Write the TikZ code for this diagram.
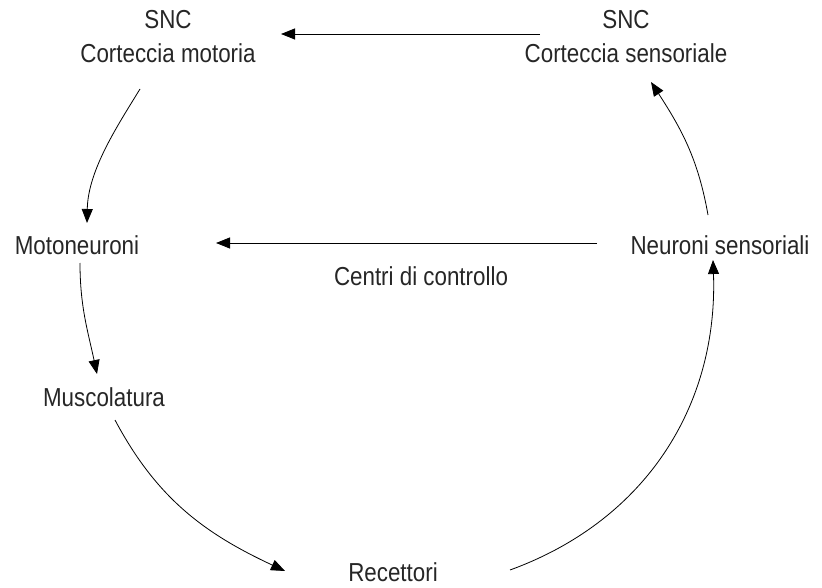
\documentclass[tikz,border=0pt]{standalone}
\usepackage{fontspec}
\setmainfont[FakeStretch=0.86]{Liberation Sans}
\usetikzlibrary{arrows.meta}
\begin{document}
\begin{tikzpicture}[x=1pt,y=-1pt,
  lbl/.style={font=\fontsize{26}{34}\selectfont, text=black!85, inner sep=0pt, align=center},
  conn/.style={line width=0.8pt, -{Triangle[length=14pt,width=11pt]}}]
\useasboundingbox (0,0) rectangle (822,588);
\node[lbl] (cm) at (168,37) {SNC\\Corteccia motoria};
\node[lbl] (cs) at (626,37) {SNC\\Corteccia sensoriale};
\node[lbl] (mn) at (77,245) {Motoneuroni};
\node[lbl] (ns) at (720,245) {Neuroni sensoriali};
\node[lbl] (cc) at (421,276) {Centri di controllo};
\node[lbl] (mu) at (104,397) {Muscolatura};
\node[lbl] (re) at (393,572) {Recettori};
\coordinate (a1) at (540,34); \coordinate (b1) at (281,34);
\coordinate (a2) at (597,243); \coordinate (b2) at (216,243);
\coordinate (a3) at (140,89); \coordinate (b3) at (87,223);
\coordinate (a4) at (80,263); \coordinate (b4) at (97,374);
\coordinate (a5) at (115,420); \coordinate (b5) at (285,571);
\coordinate (a6) at (510,570); \coordinate (b6) at (713,260);
\coordinate (a7) at (708,215); \coordinate (b7) at (651,82);
\draw[conn] (a1) -- (b1);
\draw[conn] (a2) -- (b2);
\draw[conn] (a3) .. controls (118,125) and (88,170) .. (b3);
\draw[conn] (a4) to[out=-90,in=102] (b4);
\draw[conn] (a5) to[out=-62,in=155] (b5);
\draw[conn] (a6) to[out=20,in=-88] (b6);
\draw[conn] (a7) to[out=100,in=-57] (b7);
\end{tikzpicture}
\end{document}
